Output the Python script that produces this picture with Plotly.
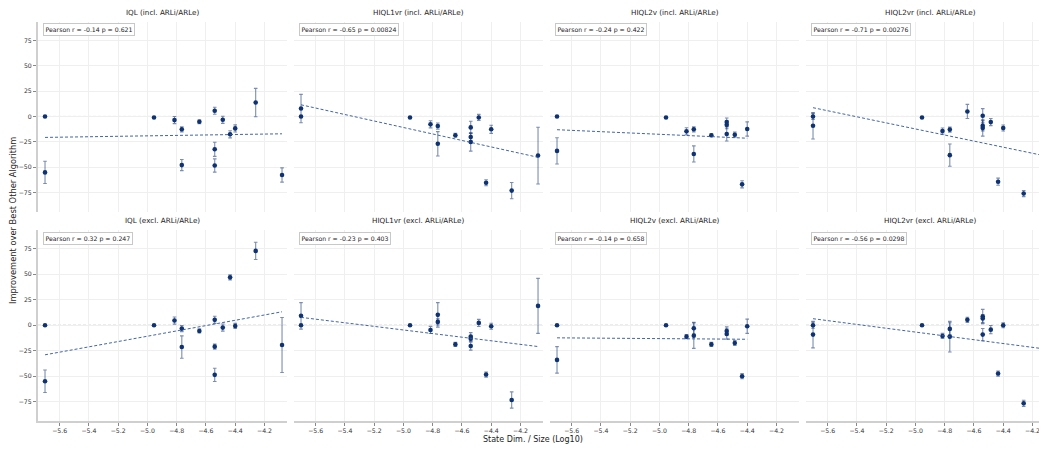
import numpy as np
import plotly.graph_objects as go

# ---------------- data ----------------
TITLES = [
    "IQL (incl. ARLi/ARLe)", "HIQL1vr (incl. ARLi/ARLe)", "HIQL2v (incl. ARLi/ARLe)", "HIQL2vr (incl. ARLi/ARLe)",
    "IQL (excl. ARLi/ARLe)", "HIQL1vr (excl. ARLi/ARLe)", "HIQL2v (excl. ARLi/ARLe)", "HIQL2vr (excl. ARLi/ARLe)",
]
STATS = [
    "Pearson r = -0.14 p = 0.621", "Pearson r = -0.65 p = 0.00824",
    "Pearson r = -0.24 p = 0.422", "Pearson r = -0.71 p = 0.00276",
    "Pearson r = 0.32 p = 0.247", "Pearson r = -0.23 p = 0.403",
    "Pearson r = -0.14 p = 0.658", "Pearson r = -0.56 p = 0.0298",
]

X_15 = [-5.70, -5.70, -4.955, -4.815, -4.765, -4.765, -4.645, -4.54, -4.54, -4.54, -4.485, -4.435, -4.40, -4.26, -4.08]
X_13 = [-5.70, -5.70, -4.955, -4.815, -4.765, -4.765, -4.645, -4.54, -4.54, -4.54, -4.485, -4.435, -4.40]
X_12 = [-5.70, -5.70, -4.955, -4.815, -4.765, -4.765, -4.645, -4.54, -4.54, -4.485, -4.435, -4.40]

IQL_INCL_Y = [0, -55.2, -1.0, -3.6, -12.7, -48.0, -5.2, 5.6, -32.4, -48.4, -3.3, -17.6, -11.8, 13.7, -57.8]
IQL_INCL_E = [0, 11, 0, 3.5, 2.5, 5.5, 2, 3.5, 7, 6.5, 3.5, 3.5, 3.5, 14, 7]

HIQL1VR_INCL_Y = [7.8, 0, -1.0, -7.8, -9.5, -27.0, -18.6, -10.8, -20.3, -25.2, -1.0, -65.4, -12.7, -73.2, -38.6]
HIQL1VR_INCL_E = [14, 0, 0, 3.5, 3, 12, 2, 6, 4, 9, 3, 3, 4, 8, 28]

HIQL2V_INCL_Y = [0, -34.0, -1.0, -14.7, -12.7, -37.0, -18.6, -5.6, -8.2, -17.3, -18.0, -67.0, -12.4]
HIQL2V_INCL_E = [0, 13, 0, 3.5, 2.5, 8, 1.5, 4, 4, 7, 2.5, 3.5, 7]

HIQL2VR_INCL_Y = [0, -9.2, -1.0, -14.4, -13.0, -38.2, 4.9, 0.7, -9.2, -11.4, -5.6, -64.4, -11.4, -76.1, -68.0]
HIQL2VR_INCL_E = [3, 13, 0, 3, 2.5, 11, 7, 7, 5, 8, 3.5, 3.5, 3, 3, 8]

IQL_EXCL_Y = [0, -55.0, 0, 4.6, -3.3, -21.4, -5.6, 5.3, -21.0, -48.7, -2.3, 47.0, -0.7, 73.0, -19.4]
IQL_EXCL_E = [0, 11, 0, 3.5, 3, 11, 2, 3.5, 2.5, 6.5, 3.5, 2.5, 2.5, 8.5, 27]

HIQL1VR_EXCL_Y = [9.2, 0, 0, -4.6, 10.2, 3.3, -18.8, -11.2, -13.2, -20.4, 2.3, -48.4, -1.0, -73.4, 19.0]
HIQL1VR_EXCL_E = [13, 0, 0, 3.5, 12, 3, 2, 4, 3, 4, 3.5, 2.5, 3, 8, 27]

HIQL2V_EXCL_Y = [0, -34.0, 0, -11.2, -3.0, -10.2, -18.8, -5.6, -8.6, -17.4, -50.0, -1.0]
HIQL2V_EXCL_E = [0, 13, 0, 2, 6, 12.5, 2, 4, 5, 2.5, 2.5, 7]

HIQL2VR_EXCL_Y = [0, -9.2, 0, -10.5, -3.6, -11.2, 5.3, 8.6, 6.6, -9.2, -4.3, -47.4, 0, -76.6, -31.0]
HIQL2VR_EXCL_E = [3, 13, 0, 2.5, 6, 15, 2.5, 7, 4, 6, 4, 2.5, 2.5, 3, 10]

X_TICKS = [-5.6, -5.4, -5.2, -5.0, -4.8, -4.6, -4.4, -4.2]
Y_TICKS = [-75, -50, -25, 0, 25, 50, 75]

PANELS = [
    (X_15, IQL_INCL_Y, IQL_INCL_E),
    (X_15, HIQL1VR_INCL_Y, HIQL1VR_INCL_E),
    (X_13, HIQL2V_INCL_Y, HIQL2V_INCL_E),
    (X_15, HIQL2VR_INCL_Y, HIQL2VR_INCL_E),
    (X_15, IQL_EXCL_Y, IQL_EXCL_E),
    (X_15, HIQL1VR_EXCL_Y, HIQL1VR_EXCL_E),
    (X_12, HIQL2V_EXCL_Y, HIQL2V_EXCL_E),
    (X_15, HIQL2VR_EXCL_Y, HIQL2VR_EXCL_E),
]

# ---------------- layout geometry ----------------
# positions below are page pixels; the page body adds an 8px offset
OFF = 8
PAGE_W, PAGE_H = 1047, 449
W, H = PAGE_W - OFF, PAGE_H - OFF
ML = 38 - OFF
PW = W - ML
PANEL_LEFT = [38, 294, 550, 806]
PANEL_WIDTH = 249
PX_PER_UNIT = 146.3
X_LO = -5.748
ROW_TOP = [(21.7, 211.7), (230.0, 421.0)]
Y_RANGE = [-94, 93.5]


def fx(px):
    return (px - OFF - ML) / PW


def fy(py):
    return 1 - (py - OFF) / H


FONT = "DejaVu Sans"
NAVY = "#0e3272"
ERR_C = "rgba(14,50,114,0.55)"
REG_C = "rgba(45,85,155,0.9)"
GRID_C = "#efefef"
SPINE_C = "#cfcfcf"

fig = go.Figure()
layout = dict(
    width=W, height=H,
    margin=dict(l=ML, r=0, t=0, b=0),
    paper_bgcolor="white", plot_bgcolor="white",
    showlegend=False,
    font=dict(family=FONT, size=7, color="#333"),
    template="none",
)
annotations = []
shapes = []

for i, (xs, ys, es) in enumerate(PANELS):
    row, col = divmod(i, 4)
    n = i + 1
    xa = "x" if n == 1 else f"x{n}"
    ya = "y" if n == 1 else f"y{n}"
    left = PANEL_LEFT[col]
    right = min(left + PANEL_WIDTH, PAGE_W)
    x_hi = X_LO + (right - left) / PX_PER_UNIT
    top, bot = ROW_TOP[row]

    fig.add_trace(go.Scatter(
        x=xs, y=ys, mode="markers", xaxis=xa, yaxis=ya,
        marker=dict(color=NAVY, size=4.6),
        error_y=dict(type="data", array=es, visible=True, color=ERR_C, thickness=1.1, width=1.8),
    ))
    # regression line from the panel data
    xv = np.array(xs, dtype=float)
    yv = np.array(ys, dtype=float)
    k, b = np.polyfit(xv, yv, 1)
    xr = np.array([xv.min(), xv.max()])
    fig.add_trace(go.Scatter(
        x=xr, y=k * xr + b, mode="lines", xaxis=xa, yaxis=ya,
        line=dict(color=REG_C, width=1, dash="3px,2px"), hoverinfo="skip",
    ))
    # zero reference line
    shapes.append(dict(type="line", xref=f"{xa} domain", yref=ya, x0=0, x1=1, y0=0, y1=0,
                       line=dict(color="rgba(130,130,130,0.75)", width=0.8, dash="3px,2px"), layer="below"))

    bottom_row = row == 1
    first_col = col == 0
    layout["xaxis" if n == 1 else f"xaxis{n}"] = dict(
        domain=[max(0, fx(left)), min(1, fx(right))],
        range=[X_LO, x_hi], anchor=ya,
        tickvals=X_TICKS, ticktext=[f"{v:.1f}".replace("-", "\u2212") for v in X_TICKS],
        showticklabels=bottom_row, ticks="outside" if bottom_row else "",
        ticklen=3, tickwidth=0.8, tickcolor="#888",
        tickfont=dict(family=FONT, size=6.2, color="#333"),
        showgrid=True, gridcolor=GRID_C, gridwidth=0.7, zeroline=False,
        showline=bottom_row, linecolor=SPINE_C, linewidth=2,
        automargin=False, fixedrange=True,
    )
    layout["yaxis" if n == 1 else f"yaxis{n}"] = dict(
        domain=[fy(bot), fy(top)],
        range=Y_RANGE, anchor=xa,
        tickvals=Y_TICKS, ticktext=[str(v).replace("-", "\u2212") for v in Y_TICKS],
        showticklabels=first_col, ticks="outside" if first_col else "",
        ticklen=3, tickwidth=0.8, tickcolor="#888",
        tickfont=dict(family=FONT, size=6.2, color="#333"),
        showgrid=True, gridcolor=GRID_C, gridwidth=0.7, zeroline=False,
        showline=first_col, linecolor=SPINE_C, linewidth=2,
        automargin=False, fixedrange=True,
    )
    # panel title
    cx = left + PANEL_WIDTH / 2
    ty = 12.3 if row == 0 else 220.5
    annotations.append(dict(
        text=TITLES[i], xref="paper", yref="paper",
        x=fx(cx), y=fy(ty), xanchor="center", yanchor="middle",
        showarrow=False, font=dict(family=FONT, size=7.2, color="#222"),
    ))
    # stats box
    by = 22.7 if row == 0 else 231.7
    annotations.append(dict(
        text=STATS[i], xref="paper", yref="paper",
        x=fx(left + 4.5), y=fy(by), xanchor="left", yanchor="top",
        showarrow=False, font=dict(family=FONT, size=6.2, color="#222"),
        bgcolor="white", bordercolor="#c8c8c8", borderwidth=1, borderpad=1.5,
    ))

annotations.append(dict(
    text="State Dim. / Size (Log10)", xref="paper", yref="paper",
    x=fx(533), y=fy(439.3), xanchor="center", yanchor="middle",
    showarrow=False, font=dict(family=FONT, size=8, color="#222"),
))
annotations.append(dict(
    text="Improvement over Best Other Algorithm", xref="paper", yref="paper",
    x=fx(13), y=fy(221), xanchor="center", yanchor="middle", textangle=-90,
    showarrow=False, font=dict(family=FONT, size=8.3, color="#222"),
))

layout["annotations"] = annotations
layout["shapes"] = shapes
fig.update_layout(**layout)
fig.write_html("out.html")
